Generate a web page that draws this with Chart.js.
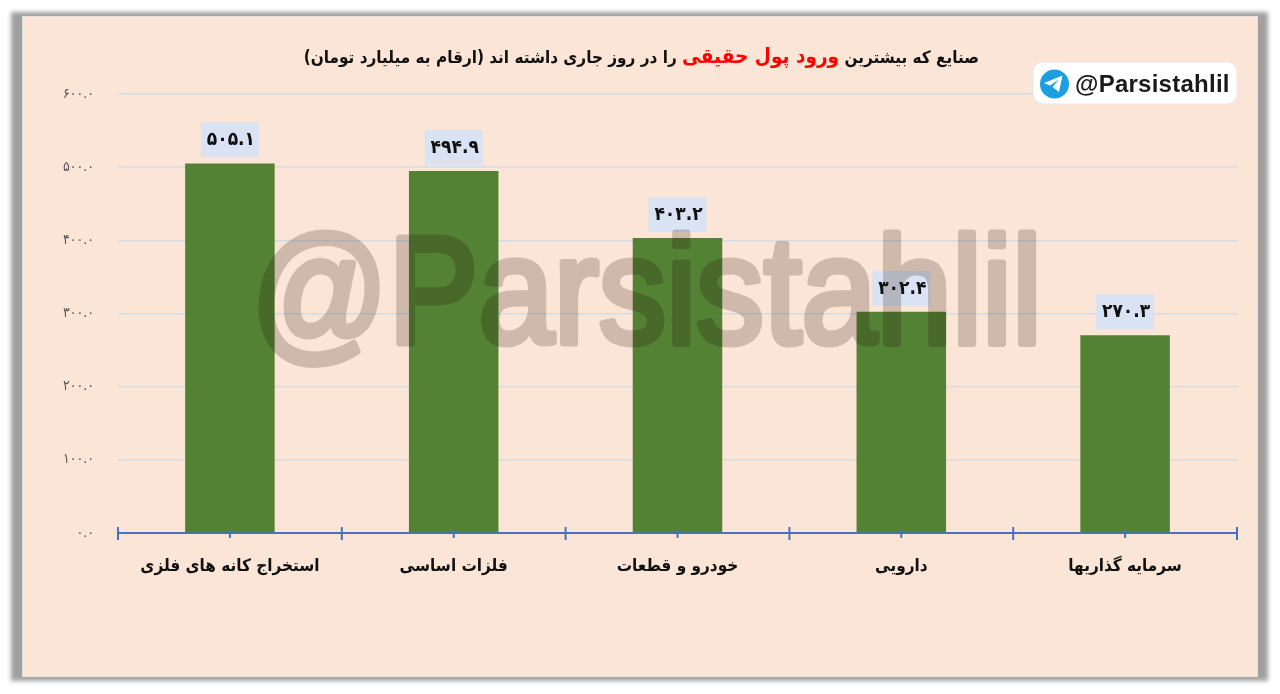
<!DOCTYPE html>
<html lang="fa"><head><meta charset="utf-8">
<style>
html,body{margin:0;padding:0;background:#fff;width:1280px;height:694px;overflow:hidden}
#shadow{position:absolute;left:11px;top:12px;width:1257px;height:669px;background:#a0a0a0;filter:blur(2px)}
#panel{position:absolute;left:23px;top:17px;width:1234px;height:659px;background:#fbe5d6;box-shadow:0 0 0 1px #e6e0dc}
#wrap{position:absolute;left:0;top:0;width:1280px;height:694px}
</style></head><body>
<div id="shadow"></div><div id="panel"></div>
<div id="wrap"><canvas id="c" width="1280" height="694"></canvas></div>
<script src="https://cdn.jsdelivr.net/npm/chart.js@4"></script>
<script>
const categories = ["استخراج کانه های فلزی","فلزات اساسی","خودرو و قطعات","دارویی","سرمایه گذاریها"];
const values = [505.1,494.9,403.2,302.4,270.3];
const valueLabels = ["۵۰۵.۱","۴۹۴.۹","۴۰۳.۲","۳۰۲.۴","۲۷۰.۳"];
const tickLabels = {0:"۰.۰",100:"۱۰۰.۰",200:"۲۰۰.۰",300:"۳۰۰.۰",400:"۴۰۰.۰",500:"۵۰۰.۰",600:"۶۰۰.۰"};
const titleParts = [["صنایع که بیشترین ","#111",17],["ورود پول حقیقی","#ff0000",20.6],[" را در روز جاری داشته اند (ارقام به میلیارد تومان)","#111",17]];
const handle = "@Parsistahlil";
const AR = '"DejaVu Sans Condensed","DejaVu Sans"';

const overlay = {
  id:'overlay',
  afterDraw(ch){
    const c=ch.ctx, area=ch.chartArea, xs=ch.scales.x, bars=ch.getDatasetMeta(0).data;
    c.save();
    const step=xs.width/categories.length;
    c.strokeStyle='#4472c4';
    c.lineWidth=2;
    for(let i=0;i<=categories.length;i++){
      const px=xs.left+i*step;
      c.beginPath();c.moveTo(px,area.bottom-6);c.lineTo(px,area.bottom+7);c.stroke();
    }
    categories.forEach((_,i)=>{
      const px=xs.getPixelForValue(i);
      c.beginPath();c.moveTo(px,area.bottom-4);c.lineTo(px,area.bottom+5);c.stroke();
    });
    bars.forEach(b=>{
      c.fillStyle='#dae3f3';
      c.fillRect(b.x-29,b.y-41,58,35);
    });
    c.direction='ltr';c.textAlign='center';c.textBaseline='middle';
    c.fillStyle='#111';c.font='bold 19px '+AR;
    bars.forEach((b,i)=>c.fillText(valueLabels[i],b.x+1,b.y-23));
    c.direction='rtl';c.textAlign='right';c.textBaseline='alphabetic';
    let x=979;
    titleParts.forEach(([t,col,s])=>{
      c.font='bold '+s+'px '+AR;c.fillStyle=col;
      c.fillText(t,x,63);
      x-=c.measureText(t).width;
    });
    c.direction='ltr';c.textAlign='left';
    c.fillStyle='#fff';c.strokeStyle='#ece6e2';c.lineWidth=1;
    c.beginPath();c.roundRect(1033,62,204,42,10);c.fill();c.stroke();
    c.fillStyle='#1b9fe0';c.beginPath();c.arc(1054.5,84,14.5,0,Math.PI*2);c.fill();
    c.fillStyle='#fff';c.beginPath();
    c.moveTo(1062.5,75.5);c.lineTo(1044,83);c.lineTo(1050,85.5);c.lineTo(1059,79.5);c.lineTo(1052.5,87);c.lineTo(1059,92);c.closePath();c.fill();
    c.fillStyle='#1a1a1a';c.font='bold 24px "Liberation Sans"';c.textBaseline='middle';
    c.letterSpacing='0.25px';
    c.fillText(handle,1075,85);
    c.letterSpacing='0px';
    const layer=document.createElement('canvas');layer.width=1280;layer.height=694;
    const w=layer.getContext('2d');
    w.fillStyle='#1e0a00';w.strokeStyle='#1e0a00';w.lineWidth=7;w.lineJoin='round';
    w.font='152px "Liberation Sans"';w.textBaseline='alphabetic';
    w.fillText(handle,251,343,791);
    w.strokeText(handle,251,343,791);
    c.globalAlpha=0.2;
    c.drawImage(layer,0,0);
    c.restore();
  }
};

new Chart(document.getElementById('c'),{
  type:'bar',
  data:{labels:categories,datasets:[{data:values,backgroundColor:'#548235',barPercentage:1,categoryPercentage:0.4}]},
  plugins:[overlay],
  options:{
    responsive:false,animation:false,devicePixelRatio:1,
    layout:{padding:{left:0,right:43,top:94,bottom:0}},
    plugins:{legend:{display:false},title:{display:false},tooltip:{enabled:false}},
    scales:{
      x:{
        afterFit(s){s.height=161;},
        grid:{display:false},
        border:{display:true,color:'#4472c4',width:2},
        ticks:{color:'#111',padding:15,maxRotation:0,font:{family:AR,size:17,weight:'bold'}}
      },
      y:{
        min:0,max:600,
        afterFit(s){s.width=118;},
        grid:{color:'#d5dbe3',lineWidth:1.5,drawTicks:false},
        border:{display:false},
        ticks:{stepSize:100,color:'#555',padding:24,font:{family:AR,size:14},callback:v=>tickLabels[v]}
      }
    }
  }
});
</script></body></html>
